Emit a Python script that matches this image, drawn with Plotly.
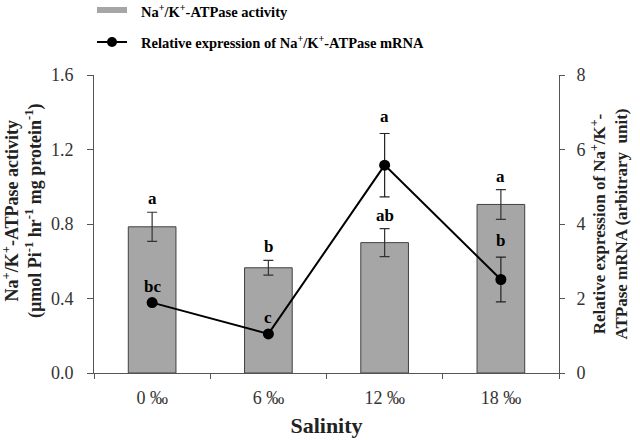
import plotly.graph_objects as go

categories = ["0 ‰", "6 ‰", "12 ‰", "18 ‰"]
activity = [0.785, 0.565, 0.70, 0.905]
activity_err = [0.078, 0.04, 0.075, 0.08]
mrna = [1.89, 1.05, 5.58, 2.51]
mrna_err = [0.0, 0.0, 0.85, 0.6]
activity_letters = ["a", "b", "ab", "a"]
mrna_letters = ["bc", "c", "a", "b"]

SERIF = "Liberation Serif, Times New Roman, serif"

# plot area in page pixels (body margin removed below)
L, R, T, B = 94, 559, 75, 373
def px(x):
    return (x - L) / (R - L)
def py(y):
    return (B - y) / (B - T)

fig = go.Figure()
fig.add_trace(go.Bar(
    x=categories, y=activity,
    error_y=dict(type="data", array=activity_err, color="#333", thickness=1.2, width=5),
    marker=dict(color="#a6a6a6", line=dict(color="#404040", width=1)),
    width=0.41, name="Na+/K+-ATPase activity", yaxis="y",
))
fig.add_trace(go.Scatter(
    x=categories, y=mrna, mode="lines+markers",
    error_y=dict(type="data", array=mrna_err, color="#222", thickness=1.2, width=5),
    line=dict(color="black", width=2),
    marker=dict(color="black", size=11),
    name="Relative expression of Na+/K+-ATPase mRNA", yaxis="y2",
))

annotations = []
for c, v, e, t in zip(categories, activity, activity_err, activity_letters):
    annotations.append(dict(x=c, y=v + e, xref="x", yref="y", text=f"<b>{t}</b>",
                            showarrow=False, yanchor="bottom", yshift=2,
                            font=dict(family=SERIF, size=17, color="black")))
for c, v, e, t in zip(categories, mrna, mrna_err, mrna_letters):
    annotations.append(dict(x=c, y=v + e, xref="x", yref="y2", text=f"<b>{t}</b>",
                            showarrow=False, yanchor="bottom", yshift=5,
                            font=dict(family=SERIF, size=17, color="black")))

# manual legend
annotations.append(dict(x=px(139), y=py(11), xref="paper", yref="paper", xanchor="left", yanchor="middle",
                        text="<b>Na<sup>+</sup>/K<sup>+</sup>-ATPase activity</b>", showarrow=False,
                        font=dict(family=SERIF, size=14.5, color="black")))
annotations.append(dict(x=px(139), y=py(42), xref="paper", yref="paper", xanchor="left", yanchor="middle",
                        text="<b>Relative expression of Na<sup>+</sup>/K<sup>+</sup>-ATPase mRNA</b>", showarrow=False,
                        font=dict(family=SERIF, size=14.5, color="black")))
# left axis title
annotations.append(dict(x=px(22), y=py(211), xref="paper", yref="paper", xanchor="center", yanchor="middle",
                        textangle=-90, showarrow=False,
                        text="<b>Na<sup>+</sup>/K<sup>+</sup>-ATPase activity<br>(µmol Pi<sup>-1</sup> hr<sup>-1</sup> mg protein<sup>-1</sup>)</b>",
                        font=dict(family=SERIF, size=18, color="#222")))
shapes = [
    dict(type="rect", xref="paper", yref="paper", x0=px(97), x1=px(127), y0=py(7), y1=py(13),
         fillcolor="#a6a6a6", line=dict(width=0)),
    dict(type="line", xref="paper", yref="paper", x0=px(97), x1=px(127), y0=py(42), y1=py(42),
         line=dict(color="black", width=2)),
    dict(type="circle", xref="paper", yref="paper", x0=px(107), x1=px(117), y0=py(37), y1=py(47),
         fillcolor="black", line=dict(width=0)),
]

fig.update_layout(
    width=640, height=440,
    margin=dict(l=L, r=640 - R, t=T, b=440 - B, autoexpand=False),
    paper_bgcolor="white", plot_bgcolor="white",
    font=dict(family=SERIF, size=17, color="#222"),
    showlegend=False,
    bargap=0.59,
    xaxis=dict(
        type="category", showline=True, linecolor="#555", linewidth=1,
        ticks="outside", ticklen=5, tickcolor="#555", tickson="boundaries",
        tickangle=0, ticklabelstandoff=8,
        tickfont=dict(family=SERIF, size=18, color="#333"),
        title=dict(text="<b>Salinity</b>", font=dict(family=SERIF, size=22, color="#222"), standoff=11),
    ),
    yaxis=dict(
        range=[0, 1.6], tickvals=[0, 0.4, 0.8, 1.2, 1.6],
        ticktext=["0.0", "0.4", "0.8", "1.2", "1.6"],
        showline=True, linecolor="#555", linewidth=1, showgrid=False, zeroline=False,
        ticks="outside", ticklen=6, tickcolor="#555", ticklabelstandoff=10,
        tickfont=dict(family=SERIF, size=18, color="#333"),
    ),
    yaxis2=dict(
        range=[0, 8], tickvals=[0, 2, 4, 6, 8], overlaying="y", side="right",
        showline=True, linecolor="#555", linewidth=1, showgrid=False, zeroline=False,
        ticks="outside", ticklen=5, tickcolor="#555", ticklabelstandoff=8,
        tickfont=dict(family=SERIF, size=18, color="#333"),
        title=dict(text="<b>Relative expression of Na<sup>+</sup>/K<sup>+</sup>-<br>ATPase mRNA (arbitrary  unit)</b>",
                   font=dict(family=SERIF, size=17, color="#222"), standoff=8),
    ),
    annotations=annotations,
    shapes=shapes,
)

fig.write_html("out.html", config={"displayModeBar": False},
               post_script="document.body.style.margin='0';")
